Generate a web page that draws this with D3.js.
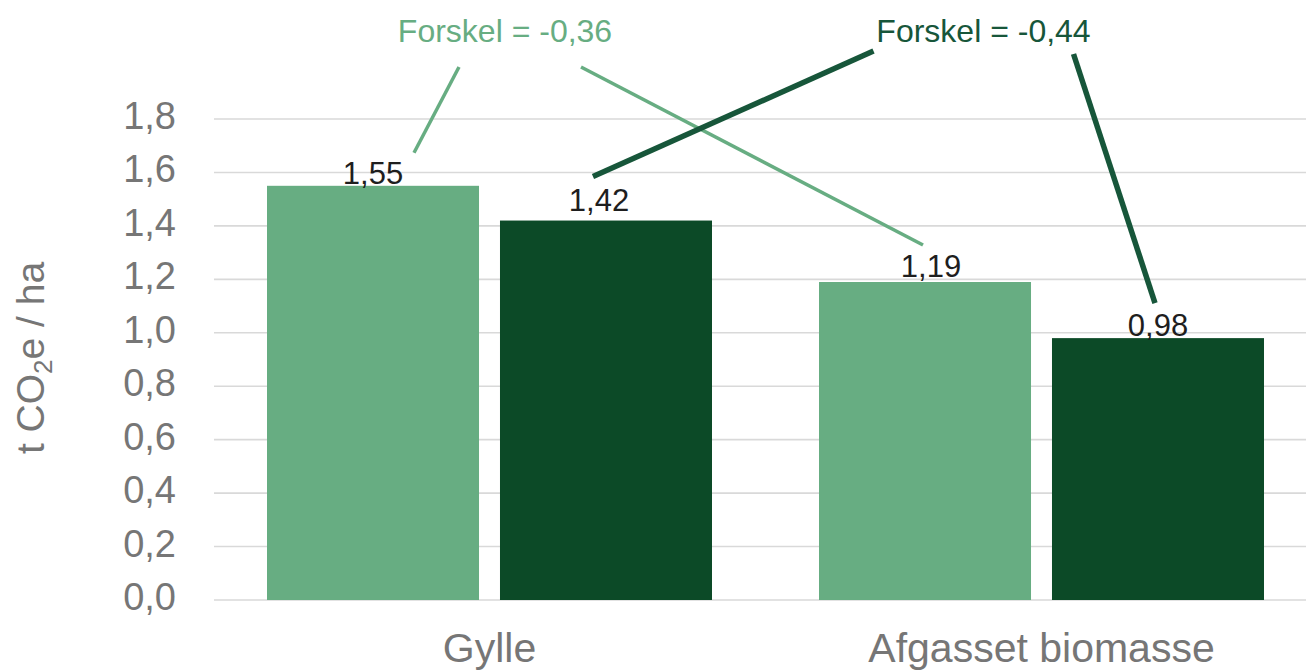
<!DOCTYPE html>
<html>
<head>
<meta charset="utf-8">
<script src="https://cdn.jsdelivr.net/npm/d3@7"></script>
<style>
  html, body { margin: 0; padding: 0; background: #ffffff; }
  svg { display: block; font-family: "Liberation Sans", Arial, sans-serif; }
</style>
</head>
<body>
<svg id="chart" width="1306" height="672"></svg>
<script>
// ---- data ----
const categories = ["Gylle", "Afgasset biomasse"];
const seriesNames = ["A", "B"];
const valuesA = [1.55, 1.19];
const valuesB = [1.42, 0.98];
const valueLabels = [["1,55", "1,42"], ["1,19", "0,98"]];
const yTicks = [0, 0.2, 0.4, 0.6, 0.8, 1.0, 1.2, 1.4, 1.6, 1.8];
const yTickLabels = ["0,0", "0,2", "0,4", "0,6", "0,8", "1,0", "1,2", "1,4", "1,6", "1,8"];
const annotationTexts = ["Forskel = -0,36", "Forskel = -0,44"];

// ---- layout / style ----
const W = 1306, H = 672;
const colors = { A: "#67ad82", B: "#0c4a27" };
const annoColors = ["#67ad82", "#17563a"];
const leaderWidths = [3.5, 5.5];

const svg = d3.select("#chart");

const y = d3.scaleLinear().domain([0, 1.8]).range([600, 119]);
const x0 = d3.scaleBand().domain(categories).range([213.5, 1317.5]).paddingInner(0).paddingOuter(0);
const x1 = d3.scaleBand().domain(seriesNames).range([53.5, 498.5]).paddingInner(0.09).paddingOuter(0);

// gridlines
svg.append("g").selectAll("line").data(yTicks).join("line")
  .attr("x1", 214).attr("x2", W)
  .attr("y1", d => y(d)).attr("y2", d => y(d))
  .attr("stroke", "#d9d9d9").attr("stroke-width", 1.6);

// y tick labels
svg.append("g").selectAll("text").data(yTicks).join("text")
  .attr("x", 176).attr("y", d => y(d) + 10)
  .attr("text-anchor", "end")
  .attr("font-size", 38)
  .attr("fill", "#767676")
  .text((d, i) => yTickLabels[i]);

// y axis title
const yt = svg.append("text")
  .attr("transform", "translate(44,358) rotate(-90)")
  .attr("text-anchor", "middle")
  .attr("font-size", 39)
  .attr("fill", "#767676");
yt.append("tspan").text("t CO");
yt.append("tspan").attr("font-size", 26).attr("dy", 8).text("2");
yt.append("tspan").attr("dy", -8).text("e / ha");

// bars
const rows = categories.map((c, i) => ({ cat: c, vals: [valuesA[i], valuesB[i]], labels: valueLabels[i] }));
const groups = svg.append("g").selectAll("g").data(rows).join("g")
  .attr("transform", d => `translate(${x0(d.cat)},0)`);

groups.selectAll("rect").data(d => d.vals.map((v, j) => ({ s: seriesNames[j], v }))).join("rect")
  .attr("x", d => x1(d.s))
  .attr("width", x1.bandwidth())
  .attr("y", d => y(d.v))
  .attr("height", d => y(0) - y(d.v))
  .attr("fill", d => colors[d.s]);

// data labels (manually nudged as in the original)
const labelNudge = [[[0, -2], [-7, -10]], [[6, -5], [0, -2]]];
groups.each(function (d, i) {
  const g = d3.select(this);
  d.vals.forEach((v, j) => {
    g.append("text")
      .attr("x", x1(seriesNames[j]) + x1.bandwidth() / 2 + labelNudge[i][j][0])
      .attr("y", y(v) + labelNudge[i][j][1])
      .attr("text-anchor", "middle")
      .attr("font-size", 31)
      .attr("fill", "#1e1e1e")
      .text(d.labels[j]);
  });
});

// category labels
svg.append("g").selectAll("text").data(categories).join("text")
  .attr("x", d => x0(d) + x0.bandwidth() / 2)
  .attr("y", 662)
  .attr("text-anchor", "middle")
  .attr("font-size", 41)
  .attr("fill", "#767676")
  .text(d => d);

// annotations
const annoPos = [[505, 42], [983.5, 42]];
annotationTexts.forEach((t, k) => {
  svg.append("text")
    .attr("x", annoPos[k][0]).attr("y", annoPos[k][1])
    .attr("text-anchor", "middle")
    .attr("font-size", 32)
    .attr("fill", annoColors[k])
    .text(t);
});

// leader lines: from annotation text to bar labels
// [annotation index, start offset from annotation anchor, target category, target series, end offset from bar top-centre]
const leaders = [
  [0, [-46, 25], 0, 0, [41, -33]],
  [0, [76, 25], 1, 0, [-2, -37]],
  [1, [-110, 9], 0, 1, [-13, -44]],
  [1, [90, 12], 1, 1, [-3, -35]]
];
const vals = [valuesA, valuesB];
leaders.forEach(([k, so, ci, si, eo]) => {
  const cx = x0(categories[ci]) + x1(seriesNames[si]) + x1.bandwidth() / 2;
  const cy = y(vals[si][ci]);
  svg.append("line")
    .attr("x1", annoPos[k][0] + so[0]).attr("y1", annoPos[k][1] + so[1])
    .attr("x2", cx + eo[0]).attr("y2", cy + eo[1])
    .attr("stroke", annoColors[k])
    .attr("stroke-width", leaderWidths[k]);
});
</script>
</body>
</html>
